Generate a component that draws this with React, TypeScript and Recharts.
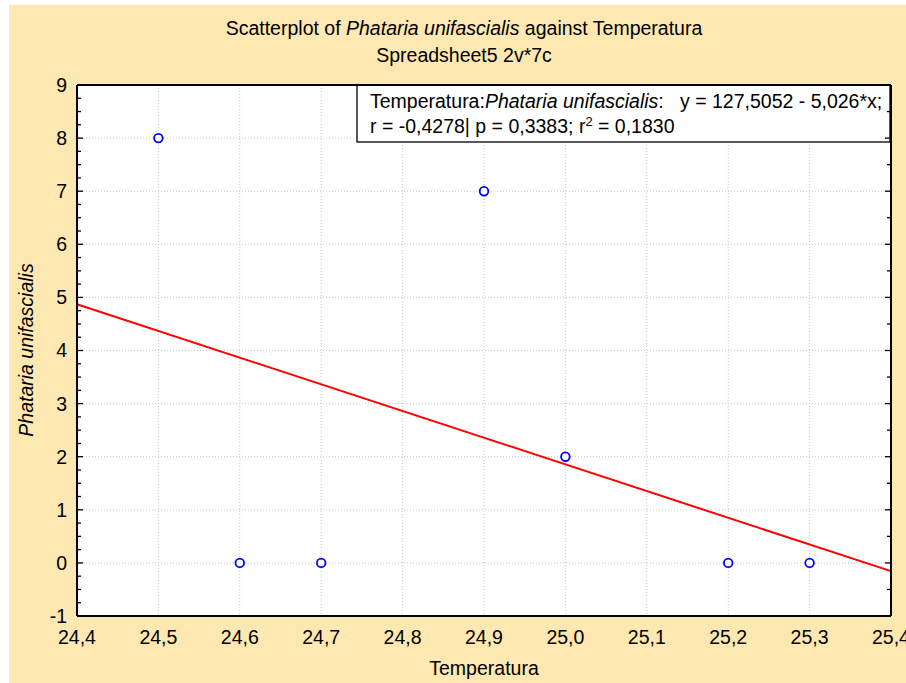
import React from "react";
import {
  ScatterChart,
  Scatter,
  XAxis,
  YAxis,
  CartesianGrid,
  ReferenceLine,
  Customized,
} from "recharts";

// observations (Temperatura, Phataria unifascialis)
const temperatura = [24.5, 24.6, 24.7, 24.9, 25.0, 25.2, 25.3];
const phataria = [8, 0, 0, 7, 2, 0, 0];

// fitted line from the chart's own text: y = 127,5052 - 5,026*x
const INTERCEPT = 127.5052;
const SLOPE = -5.026;

const xTicks = [24.4, 24.5, 24.6, 24.7, 24.8, 24.9, 25.0, 25.1, 25.2, 25.3, 25.4];
const yTicks = [-1, 0, 1, 2, 3, 4, 5, 6, 7, 8, 9];

const X_DOMAIN: [number, number] = [24.4, 25.4];
const Y_DOMAIN: [number, number] = [-1, 9];

const CREAM = "#FEE8B2";
const FONT = "'Liberation Sans', Arial, sans-serif";
const FS = 19.5;

const points = temperatura.map((x, i) => ({ x, y: phataria[i] }));
const fitAt = (x: number) => INTERCEPT + SLOPE * x;

// split each major interval into n parts for the small inward ticks
function subdivide(majors: number[], n: number) {
  const out: number[] = [];
  for (let i = 0; i < majors.length - 1; i++) {
    const step = (majors[i + 1] - majors[i]) / n;
    for (let k = 0; k < n; k++) out.push(Math.round((majors[i] + k * step) * 10000) / 10000);
  }
  out.push(majors[majors.length - 1]);
  return out;
}

const isMajor = (v: number, majors: number[]) => majors.some((m) => Math.abs(m - v) < 1e-6);

const inwardTick = (side: "top" | "bottom" | "left" | "right", majors: number[]) =>
  (props: any) => {
    const { x, y, payload } = props;
    const len = isMajor(payload.value, majors) ? 6 : 4;
    let x2 = x;
    let y2 = y;
    if (side === "bottom") y2 = y - len;
    if (side === "top") y2 = y + len;
    if (side === "left") x2 = x + len;
    if (side === "right") x2 = x - len;
    return <line x1={x} y1={y} x2={x2} y2={y2} stroke="#000" strokeWidth={1.3} />;
  };

const fmtX = (v: number) => v.toFixed(1).replace(".", ",");

function Annotations() {
  return (
    <g fontFamily={FONT} fill="#000">
      <text x={464} y={35} textAnchor="middle" fontSize={FS}>
        Scatterplot of <tspan fontStyle="italic">Phataria unifascialis</tspan> against Temperatura
      </text>
      <text x={464} y={62} textAnchor="middle" fontSize={FS}>
        Spreadsheet5 2v*7c
      </text>
      <text
        transform="translate(33,350) rotate(-90)"
        textAnchor="middle"
        fontSize={FS}
        fontStyle="italic"
      >
        Phataria unifascialis
      </text>
      <rect x={357} y={85} width={533} height={57} fill="#fff" stroke="#000" strokeWidth={1.3} />
      <text x={370} y={108} fontSize={FS} xmlSpace="preserve" style={{ whiteSpace: "pre" }}>
        Temperatura:<tspan fontStyle="italic">Phataria unifascialis</tspan>:{"   "}y = 127,5052 - 5,026*x;
      </text>
      <text x={370} y={133} fontSize={FS} xmlSpace="preserve" style={{ whiteSpace: "pre" }}>
        r = -0,4278| p = 0,3383; r<tspan fontSize={13} dy={-7}>2</tspan>
        <tspan dy={7}> = 0,1830</tspan>
      </text>
    </g>
  );
}

export default function App() {
  const xMinor = subdivide(xTicks, 4);
  const yMinorLeft = subdivide(yTicks, 4);
  const yMinorRight = subdivide(yTicks, 2);
  const tickStyle = { fill: "#000", fontSize: FS, fontFamily: FONT };

  return (
    <div style={{ position: "absolute", left: 0, top: 0, width: 906, height: 683, background: "#fff" }}>
      <div style={{ position: "absolute", left: 9, top: 5, right: 0, bottom: 0, background: CREAM }} />
      <div style={{ position: "absolute", left: 0, top: 0 }}>
        <ScatterChart width={906} height={683} margin={{ top: 85, right: 15, bottom: 0, left: 0 }}>
          <CartesianGrid fill="#fff" fillOpacity={1} stroke="#c8c8c8" strokeDasharray="1 2" />
          <XAxis
            type="number"
            dataKey="x"
            domain={X_DOMAIN}
            ticks={xTicks}
            allowDataOverflow
            height={67}
            tickSize={0}
            tickMargin={14}
            tickLine={false}
            axisLine={false}
            tick={tickStyle}
            tickFormatter={fmtX}
            interval={0}
            label={{
              value: "Temperatura",
              position: "insideBottom",
              offset: 8,
              fill: "#000",
              fontSize: FS,
              fontFamily: FONT,
            }}
          />
          <YAxis
            type="number"
            dataKey="y"
            domain={Y_DOMAIN}
            ticks={yTicks}
            allowDataOverflow
            width={77}
            tickSize={0}
            tickMargin={10}
            tickLine={false}
            axisLine={false}
            tick={tickStyle}
            interval={0}
          />
          {/* frame with small inward ticks on all four sides */}
          <XAxis
            xAxisId="bottomFrame"
            orientation="bottom"
            type="number"
            domain={X_DOMAIN}
            ticks={xMinor}
            allowDataOverflow
            mirror
            interval={0}
            tickSize={0}
            tickMargin={0}
            tickLine={false}
            axisLine={{ stroke: "#000", strokeWidth: 2 }}
            tick={inwardTick("bottom", xTicks)}
          />
          <XAxis
            xAxisId="topFrame"
            orientation="top"
            type="number"
            domain={X_DOMAIN}
            ticks={xMinor}
            allowDataOverflow
            mirror
            interval={0}
            tickSize={0}
            tickMargin={0}
            tickLine={false}
            axisLine={{ stroke: "#000", strokeWidth: 2 }}
            tick={inwardTick("top", xTicks)}
          />
          <YAxis
            yAxisId="leftFrame"
            orientation="left"
            type="number"
            domain={Y_DOMAIN}
            ticks={yMinorLeft}
            allowDataOverflow
            mirror
            interval={0}
            tickSize={0}
            tickMargin={0}
            tickLine={false}
            axisLine={{ stroke: "#000", strokeWidth: 2 }}
            tick={inwardTick("left", yTicks)}
          />
          <YAxis
            yAxisId="rightFrame"
            orientation="right"
            type="number"
            domain={Y_DOMAIN}
            ticks={yMinorRight}
            allowDataOverflow
            mirror
            interval={0}
            tickSize={0}
            tickMargin={0}
            tickLine={false}
            axisLine={{ stroke: "#000", strokeWidth: 2 }}
            tick={inwardTick("right", yTicks)}
          />
          <ReferenceLine
            segment={[
              { x: X_DOMAIN[0], y: fitAt(X_DOMAIN[0]) },
              { x: X_DOMAIN[1], y: fitAt(X_DOMAIN[1]) },
            ]}
            stroke="#ff0000"
            strokeWidth={2}
          />
          <Scatter
            data={points}
            isAnimationActive={false}
            shape={(p: any) => (
              <circle cx={p.cx} cy={p.cy} r={4.3} fill="#fff" stroke="#0000ff" strokeWidth={1.8} />
            )}
          />
          <Customized component={<Annotations />} />
        </ScatterChart>
      </div>
    </div>
  );
}
